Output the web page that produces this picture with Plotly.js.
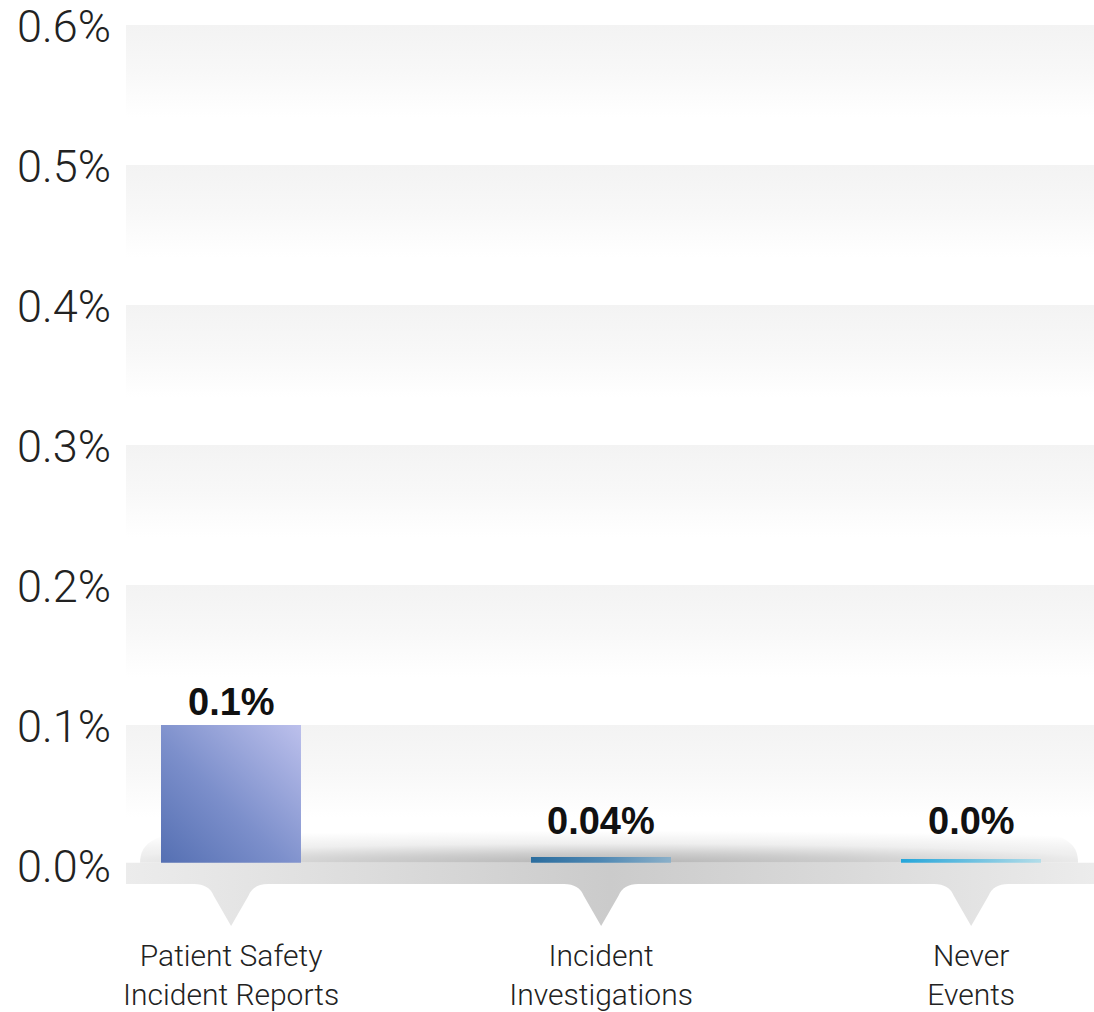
<!DOCTYPE html>
<html>
<head>
<meta charset="utf-8">
<script src="https://cdn.plot.ly/plotly-3.0.1.min.js"></script>
<style>
  html, body { margin: 0; padding: 0; background: #ffffff; }
  #chart { width: 1094px; height: 1012px; }
</style>
</head>
<body>
<div id="chart"></div>
<script>
// ---- data ----
const categories = ["Patient Safety<br>Incident Reports", "Incident<br>Investigations", "Never<br>Events"];
const values = [0.1, 0.006, 0.004];          // percent, as drawn
const valueLabels = ["0.1%", "0.04%", "0.0%"]; // labels as printed
const yTickVals = [0, 0.1, 0.2, 0.3, 0.4, 0.5, 0.6];
const yTickText = ["0.0%", "0.1%", "0.2%", "0.3%", "0.4%", "0.5%", "0.6%"];

// ---- styling helpers ----
const FONT = "Liberation Sans, Arial, Helvetica, sans-serif";
const LIGHT = "Roboto, Liberation Sans, Arial, sans-serif";
const xIdx = categories.map((_, i) => i);

const shapes = [];
const shapeGrad = {};

yTickVals.filter(v => v > 0).forEach(v => {
  shapeGrad[shapes.length] = "gBand";
  shapes.push({type: "rect", layer: "below", xref: "paper", yref: "y",
    x0: 0, x1: 1, y0: v - 0.066, y1: v, line: {width: 0}, fillcolor: "#f5f5f5"});
});
shapeGrad[shapes.length] = "gShadow";
shapes.push({type: "path", layer: "below", xref: "paper", yref: "y",
  path: "M 0.0145,0.0016 C 0.0145,0.016 0.03,0.0245 0.09,0.0245 L 0.91,0.0245 C 0.97,0.0245 0.9835,0.016 0.9835,0.0016 Z",
  line: {width: 0}, fillcolor: "#dddddd"});
shapeGrad[shapes.length] = "gFloor";
shapes.push({type: "rect", layer: "above", xref: "paper", yref: "y",
  x0: 0, x1: 1, y0: -0.0136, y1: 0.0016, line: {width: 0}, fillcolor: "#dddddd"});
xIdx.forEach(i => {
  shapeGrad[shapes.length] = "gFloor";
  const p = `M ${i-0.1},-0.0136 Q ${i-0.06},-0.0136 ${i-0.047},-0.022 L ${i},-0.0436 L ${i+0.047},-0.022 Q ${i+0.06},-0.0136 ${i+0.1},-0.0136 Z`;
  shapes.push({type: "path", layer: "above", xref: "x", yref: "y", path: p,
    line: {width: 0}, fillcolor: "#d5d5d5"});
});

const data = [{
  type: "bar",
  x: xIdx,
  y: values,
  width: 0.378,
  marker: {color: ["#6f84c4", "#3f7eab", "#4ab2dc"], line: {width: 0}},
  hoverinfo: "skip"
}];

const annotations = values.map((v, i) => ({
  x: i, y: Math.max(v, 0.015), xref: "x", yref: "y",
  yanchor: "bottom", yshift: 0, showarrow: false,
  text: "<b>" + valueLabels[i] + "</b>",
  font: {family: FONT, size: 38, color: "#111111"}
}));

const layout = {
  width: 1094, height: 1012,
  margin: {l: 126, r: 0, t: 24, b: 77, pad: 0},
  paper_bgcolor: "#ffffff", plot_bgcolor: "rgba(0,0,0,0)",
  showlegend: false,
  bargap: 0,
  xaxis: {
    range: [-0.284, 2.332], tickvals: xIdx, ticktext: categories,
    showgrid: false, zeroline: false, showline: false, ticks: "",
    tickfont: {family: LIGHT, size: 30, color: "#222222", weight: 300},
    automargin: false, fixedrange: true
  },
  yaxis: {
    range: [-0.05, 0.6008], tickvals: yTickVals, ticktext: yTickText,
    showgrid: false, zeroline: false, showline: false, ticks: "",
    ticklabelstandoff: 14, ticklabelshift: 1, ticklabeloverflow: "allow",
    tickfont: {family: LIGHT, size: 45, color: "#222222", weight: 300},
    automargin: false, fixedrange: true
  },
  shapes: shapes,
  annotations: annotations
};

const SVGNS = "http://www.w3.org/2000/svg";
function makeGrad(defs, kind, id, attrs, stops) {
  const g = document.createElementNS(SVGNS, kind);
  g.setAttribute("id", id);
  Object.keys(attrs).forEach(k => g.setAttribute(k, attrs[k]));
  stops.forEach(s => {
    const st = document.createElementNS(SVGNS, "stop");
    st.setAttribute("offset", s[0]);
    st.setAttribute("stop-color", s[1]);
    st.setAttribute("stop-opacity", s[2] === undefined ? 1 : s[2]);
    g.appendChild(st);
  });
  defs.appendChild(g);
}

function applyGradients(gd) {
  const svg = gd.querySelector("svg.main-svg");
  let defs = svg.querySelector("defs");
  if (!defs) { defs = document.createElementNS(SVGNS, "defs"); svg.insertBefore(defs, svg.firstChild); }
  makeGrad(defs, "linearGradient", "gBand", {x1: 0, y1: 0, x2: 0, y2: 1},
    [[0, "#f3f3f3"], [0.5, "#f8f8f8"], [1, "#ffffff"]]);
  makeGrad(defs, "radialGradient", "gShadow",
    {cx: 0.5, cy: 1, r: 0.5, fx: 0.5, fy: 1,
     gradientTransform: "translate(0.5 1) scale(1.8 2) translate(-0.5 -1)"},
    [[0, "#b3b3b3", 1], [0.3, "#b3b3b3", 0.65], [0.6, "#b3b3b3", 0.22], [1, "#b3b3b3", 0]]);
  makeGrad(defs, "linearGradient", "gFloor",
    {gradientUnits: "userSpaceOnUse", x1: 126, y1: 0, x2: 1094, y2: 0},
    [[0, "#ececec"], [0.25, "#dcdcdc"], [0.5, "#cbcbcb"], [0.75, "#dadada"], [1, "#ececec"]]);
  makeGrad(defs, "linearGradient", "gBar0", {x1: 0, y1: 1, x2: 1, y2: 0},
    [[0, "#546fb2"], [0.45, "#7c8fcb"], [1, "#bcc0ec"]]);
  makeGrad(defs, "linearGradient", "gBar1", {x1: 0, y1: 0, x2: 1, y2: 0},
    [[0, "#2b6d9e"], [0.5, "#4f88b3"], [1, "#8bb0c9"]]);
  makeGrad(defs, "linearGradient", "gBar2", {x1: 0, y1: 0, x2: 1, y2: 0},
    [[0, "#25a6da"], [0.5, "#6cc0e0"], [1, "#b3dde9"]]);

  gd.querySelectorAll(".shapelayer path[data-index]").forEach(p => {
    const idx = +p.getAttribute("data-index");
    if (shapeGrad[idx]) { p.style.fill = "url(#" + shapeGrad[idx] + ")"; p.style.fillOpacity = 1; }
  });
  gd.querySelectorAll(".barlayer .point path").forEach((p, i) => {
    p.style.fill = "url(#gBar" + i + ")";
    p.style.fillOpacity = 1;
  });
}

const gd = document.getElementById("chart");
Plotly.newPlot(gd, data, layout, {staticPlot: true, displayModeBar: false}).then(applyGradients);
</script>
</body>
</html>
